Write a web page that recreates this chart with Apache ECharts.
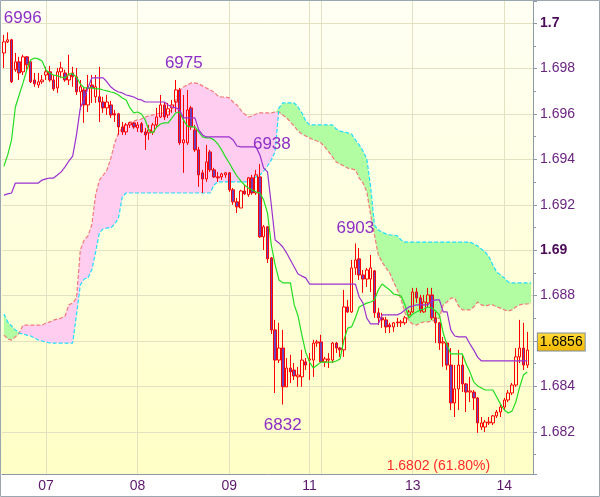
<!DOCTYPE html>
<html><head><meta charset="utf-8">
<script src="https://cdn.jsdelivr.net/npm/echarts@6/dist/echarts.min.js"></script>
<style>html,body{margin:0;padding:0;background:#fff}#c{width:600px;height:497px}</style>
</head><body><div id="c"></div>
<script>
// ---- categories (hourly bars) ----
const daySegments = [['06',13,23],['07',0,23],['08',0,23],['09',0,20],['11',21,23],['12',0,23],['13',0,23],['14',0,7]];
const categories = [];
daySegments.forEach(function(s){ for (let h=s[1]; h<=s[2]; h++) categories.push(s[0]+' '+String(h).padStart(2,'0')+':00'); });
const tickLabels = {'07 00:00':'07','08 00:00':'08','09 00:00':'09','11 21:00':'11','13 00:00':'13','14 00:00':'14'};
const dayLines = ['07 00:00','08 00:00','09 00:00','11 21:00','12 00:00','13 00:00','14 00:00'];

// ---- OHLC ----
const opens = [1.69869,1.69918,1.69927,1.69795,1.69830,1.69786,1.69852,1.69830,1.69750,1.69728,
1.69742,1.69772,1.69786,1.69750,1.69715,1.69786,1.69781,1.69750,1.69781,1.69764,
1.69698,1.69706,1.69640,1.69728,1.69676,1.69676,1.69653,1.69627,1.69640,1.69601,
1.69601,1.69543,1.69521,1.69552,1.69561,1.69539,1.69557,1.69521,1.69517,1.69521,
1.69552,1.69587,1.69640,1.69596,1.69627,1.69653,1.69706,1.69473,1.69473,1.69627,
1.69530,1.69442,1.69341,1.69314,1.69433,1.69354,1.69323,1.69323,1.69332,1.69341,
1.69266,1.69213,1.69186,1.69261,1.69244,1.69319,1.69252,1.69323,1.69059,1.69103,
1.68966,1.68649,1.68516,1.68569,1.68398,1.68481,1.68472,1.68442,1.68442,1.68508,
1.68516,1.68516,1.68591,1.68596,1.68508,1.68516,1.68516,1.68591,1.68569,1.68561,
1.68750,1.68728,1.68922,1.68962,1.68891,1.68873,1.68873,1.68909,1.68724,1.68702,
1.68693,1.68671,1.68662,1.68684,1.68680,1.68680,1.68715,1.68728,1.68816,1.68790,
1.68728,1.68768,1.68803,1.68702,1.68680,1.68591,1.68591,1.68494,1.68327,1.68389,
1.68494,1.68411,1.68375,1.68375,1.68349,1.68221,1.68221,1.68239,1.68239,1.68270,
1.68287,1.68309,1.68340,1.68371,1.68406,1.68530,1.68569,1.68494];
const closes = [1.69918,1.69927,1.69742,1.69830,1.69781,1.69852,1.69817,1.69742,1.69733,1.69742,
1.69750,1.69786,1.69750,1.69711,1.69786,1.69803,1.69750,1.69772,1.69764,1.69698,
1.69720,1.69640,1.69715,1.69715,1.69720,1.69653,1.69627,1.69653,1.69596,1.69596,
1.69543,1.69521,1.69552,1.69561,1.69543,1.69552,1.69521,1.69508,1.69530,1.69552,
1.69587,1.69640,1.69587,1.69623,1.69640,1.69706,1.69473,1.69486,1.69618,1.69543,
1.69442,1.69332,1.69314,1.69389,1.69354,1.69323,1.69319,1.69336,1.69341,1.69266,
1.69213,1.69191,1.69261,1.69248,1.69319,1.69252,1.69332,1.69059,1.69103,1.68962,
1.68649,1.68516,1.68569,1.68398,1.68481,1.68464,1.68446,1.68450,1.68516,1.68494,
1.68521,1.68591,1.68596,1.68508,1.68521,1.68521,1.68591,1.68569,1.68561,1.68750,
1.68728,1.68922,1.68957,1.68891,1.68873,1.68913,1.68922,1.68724,1.68702,1.68693,
1.68662,1.68662,1.68680,1.68680,1.68684,1.68702,1.68728,1.68816,1.68790,1.68732,
1.68772,1.68803,1.68702,1.68680,1.68591,1.68596,1.68494,1.68327,1.68389,1.68494,
1.68411,1.68375,1.68380,1.68349,1.68239,1.68239,1.68243,1.68243,1.68270,1.68287,
1.68309,1.68340,1.68371,1.68406,1.68530,1.68569,1.68494,1.68560];
const lows = [1.69803,1.69913,1.69737,1.69786,1.69750,1.69772,1.69795,1.69737,1.69720,1.69715,
1.69733,1.69750,1.69742,1.69702,1.69693,1.69759,1.69742,1.69728,1.69720,1.69684,
1.69618,1.69561,1.69609,1.69649,1.69649,1.69565,1.69605,1.69596,1.69583,1.69565,
1.69508,1.69508,1.69508,1.69539,1.69535,1.69521,1.69517,1.69442,1.69486,1.69508,
1.69539,1.69583,1.69574,1.69583,1.69605,1.69609,1.69464,1.69341,1.69464,1.69530,
1.69433,1.69279,1.69252,1.69301,1.69345,1.69319,1.69301,1.69310,1.69319,1.69257,
1.69200,1.69164,1.69186,1.69244,1.69235,1.69244,1.69244,1.69054,1.69001,1.68944,
1.68631,1.68371,1.68503,1.68320,1.68398,1.68415,1.68428,1.68398,1.68398,1.68472,
1.68428,1.68442,1.68574,1.68503,1.68486,1.68481,1.68503,1.68547,1.68530,1.68530,
1.68724,1.68724,1.68891,1.68869,1.68812,1.68838,1.68816,1.68702,1.68671,1.68658,
1.68635,1.68635,1.68640,1.68662,1.68662,1.68671,1.68706,1.68724,1.68768,1.68724,
1.68724,1.68750,1.68693,1.68591,1.68561,1.68486,1.68472,1.68296,1.68265,1.68296,
1.68375,1.68287,1.68331,1.68296,1.68195,1.68208,1.68199,1.68230,1.68230,1.68261,
1.68265,1.68296,1.68331,1.68362,1.68398,1.68503,1.68472,1.68481];
const highs = [1.69949,1.69960,1.69931,1.69869,1.69852,1.69861,1.69856,1.69834,1.69781,1.69781,
1.69772,1.69808,1.69812,1.69772,1.69803,1.69830,1.69795,1.69861,1.69808,1.69803,
1.69750,1.69720,1.69772,1.69772,1.69772,1.69808,1.69676,1.69684,1.69658,1.69618,
1.69605,1.69565,1.69561,1.69565,1.69565,1.69565,1.69565,1.69539,1.69552,1.69561,
1.69627,1.69684,1.69653,1.69649,1.69662,1.69750,1.69715,1.69684,1.69706,1.69636,
1.69552,1.69455,1.69354,1.69464,1.69442,1.69363,1.69345,1.69341,1.69345,1.69345,
1.69274,1.69230,1.69266,1.69288,1.69323,1.69332,1.69354,1.69380,1.69111,1.69107,
1.68970,1.68693,1.68680,1.68649,1.68525,1.68539,1.68503,1.68486,1.68561,1.68525,
1.68547,1.68605,1.68605,1.68627,1.68530,1.68547,1.68596,1.68596,1.68574,1.68825,
1.68781,1.68957,1.69030,1.69010,1.68913,1.68922,1.68979,1.68913,1.68746,1.68724,
1.68706,1.68680,1.68684,1.68702,1.68693,1.68710,1.68737,1.68834,1.68834,1.68803,
1.68803,1.68834,1.68834,1.68728,1.68684,1.68618,1.68596,1.68569,1.68494,1.68561,
1.68539,1.68415,1.68442,1.68384,1.68353,1.68265,1.68252,1.68265,1.68274,1.68296,
1.68318,1.68349,1.68384,1.68415,1.68569,1.68693,1.68680,1.68640];

// ---- Ichimoku ----
const tenkan = [1.69370,1.69420,1.69486,1.69631,1.69684,1.69737,1.69794,1.69838,1.69847,1.69843,
1.69834,1.69794,1.69781,1.69772,1.69768,1.69763,1.69759,1.69777,1.69777,1.69763,
1.69733,1.69715,1.69715,1.69715,1.69711,1.69711,1.69706,1.69702,1.69697,1.69693,
1.69684,1.69671,1.69662,1.69627,1.69605,1.69609,1.69600,1.69574,1.69525,1.69517,
1.69543,1.69556,1.69561,1.69561,1.69583,1.69605,1.69609,1.69574,1.69547,1.69543,
1.69543,1.69521,1.69499,1.69495,1.69495,1.69486,1.69468,1.69442,1.69411,1.69384,
1.69354,1.69327,1.69305,1.69287,1.69274,1.69265,1.69257,1.69252,1.69221,1.69164,
1.69023,1.68935,1.68869,1.68856,1.68856,1.68856,1.68759,1.68710,1.68626,1.68551,
1.68507,1.68481,1.68494,1.68507,1.68507,1.68507,1.68507,1.68512,1.68521,1.68604,
1.68657,1.68662,1.68701,1.68750,1.68759,1.68767,1.68772,1.68781,1.68825,1.68851,
1.68838,1.68825,1.68807,1.68803,1.68798,1.68759,1.68701,1.68719,1.68728,1.68737,
1.68741,1.68750,1.68745,1.68732,1.68715,1.68635,1.68582,1.68543,1.68543,1.68543,
1.68543,1.68499,1.68463,1.68419,1.68402,1.68393,1.68384,1.68384,1.68384,1.68353,
1.68322,1.68296,1.68283,1.68291,1.68331,1.68397,1.68450,1.68463];
const kijun = [1.69243,1.69248,1.69252,1.69296,1.69296,1.69296,1.69296,1.69296,1.69296,1.69296,
1.69309,1.69314,1.69318,1.69318,1.69331,1.69345,1.69367,1.69393,1.69415,1.69508,
1.69627,1.69666,1.69715,1.69759,1.69759,1.69759,1.69759,1.69741,1.69719,1.69706,
1.69697,1.69693,1.69684,1.69680,1.69675,1.69666,1.69662,1.69653,1.69653,1.69653,
1.69653,1.69653,1.69653,1.69640,1.69631,1.69627,1.69618,1.69583,1.69583,1.69583,
1.69583,1.69530,1.69508,1.69499,1.69499,1.69499,1.69499,1.69499,1.69499,1.69499,
1.69486,1.69459,1.69455,1.69455,1.69455,1.69455,1.69455,1.69420,1.69362,1.69345,
1.69199,1.69045,1.69032,1.69014,1.68988,1.68957,1.68926,1.68895,1.68886,1.68878,
1.68851,1.68851,1.68851,1.68851,1.68851,1.68851,1.68851,1.68851,1.68851,1.68851,
1.68851,1.68851,1.68851,1.68794,1.68767,1.68701,1.68675,1.68675,1.68675,1.68715,
1.68715,1.68715,1.68715,1.68715,1.68723,1.68737,1.68750,1.68754,1.68759,1.68759,
1.68759,1.68759,1.68776,1.68781,1.68781,1.68728,1.68728,1.68648,1.68622,1.68618,
1.68618,1.68618,1.68587,1.68560,1.68529,1.68512,1.68512,1.68512,1.68512,1.68512,
1.68512,1.68512,1.68512,1.68512,1.68512,1.68512,1.68512,1.68512];
const spanA = [1.68626,1.68609,1.68604,1.68618,1.68635,1.68670,1.68670,1.68670,1.68670,1.68670,
1.68670,1.68679,1.68684,1.68692,1.68697,1.68701,1.68710,1.68759,1.68767,1.68789,
1.69001,1.69045,1.69063,1.69111,1.69243,1.69309,1.69331,1.69354,1.69406,1.69473,
1.69517,1.69539,1.69556,1.69565,1.69569,1.69574,1.69578,1.69587,1.69592,1.69596,
1.69600,1.69605,1.69605,1.69609,1.69618,1.69662,1.69706,1.69719,1.69728,1.69737,
1.69737,1.69733,1.69724,1.69715,1.69706,1.69697,1.69680,1.69675,1.69675,1.69671,
1.69653,1.69640,1.69618,1.69600,1.69587,1.69592,1.69600,1.69605,1.69605,1.69605,
1.69605,1.69609,1.69609,1.69596,1.69583,1.69565,1.69547,1.69525,1.69512,1.69503,
1.69495,1.69486,1.69481,1.69473,1.69455,1.69433,1.69411,1.69389,1.69380,1.69371,
1.69362,1.69358,1.69354,1.69318,1.69296,1.69257,1.69155,1.69067,1.68979,1.68948,
1.68922,1.68900,1.68860,1.68825,1.68781,1.68724,1.68688,1.68675,1.68670,1.68679,
1.68684,1.68684,1.68688,1.68692,1.68701,1.68759,1.68772,1.68789,1.68789,1.68754,
1.68737,1.68737,1.68737,1.68750,1.68772,1.68759,1.68754,1.68759,1.68759,1.68750,
1.68745,1.68737,1.68732,1.68737,1.68750,1.68759,1.68763,1.68763,1.68767];
const spanB = [1.68719,1.68684,1.68666,1.68649,1.68635,1.68631,1.68626,1.68622,1.68613,1.68604,
1.68600,1.68596,1.68591,1.68591,1.68591,1.68591,1.68591,1.68591,1.68591,1.68715,
1.68847,1.68873,1.68878,1.68913,1.68992,1.69076,1.69094,1.69098,1.69098,1.69116,
1.69142,1.69235,1.69252,1.69252,1.69252,1.69252,1.69252,1.69252,1.69252,1.69252,
1.69252,1.69252,1.69252,1.69252,1.69252,1.69252,1.69252,1.69252,1.69252,1.69252,
1.69252,1.69252,1.69252,1.69252,1.69252,1.69287,1.69301,1.69301,1.69301,1.69301,
1.69301,1.69301,1.69301,1.69301,1.69301,1.69309,1.69323,1.69331,1.69349,1.69371,
1.69398,1.69433,1.69627,1.69649,1.69649,1.69649,1.69649,1.69631,1.69605,1.69570,
1.69552,1.69552,1.69552,1.69552,1.69552,1.69552,1.69552,1.69534,1.69525,1.69521,
1.69517,1.69512,1.69486,1.69464,1.69437,1.69402,1.69279,1.69111,1.69089,1.69080,
1.69072,1.69067,1.69067,1.69063,1.69045,1.69036,1.69036,1.69036,1.69036,1.69036,
1.69036,1.69036,1.69036,1.69036,1.69036,1.69036,1.69036,1.69036,1.69036,1.69036,
1.69036,1.69036,1.69036,1.69027,1.69019,1.69005,1.68992,1.68970,1.68935,1.68904,
1.68891,1.68878,1.68860,1.68856,1.68856,1.68856,1.68856,1.68856,1.68856];

// ---- annotations ----
const extremeLabels = [
  {at:'06 14:00', price:1.6996, text:'6996'},
  {at:'08 10:00', price:1.6975, text:'6975'},
  {at:'09 08:00', price:1.6938, text:'6938'},
  {at:'12 09:00', price:1.6903, text:'6903'},
  {at:'09 14:00', price:1.6832, text:'6832'}
];
const extremeOffsets = [[15,-14],[8,-17],[12,-20],[0,-15],[0,21]];
const fibLevel = {at:'13 07:00', price:1.6802, text:'1.6802 (61.80%)'};

// ---- derived tables for the library ----
const candleData = opens.map(function(o,i){ return [o, closes[i], lows[i], highs[i]]; });
const kumoLow = spanA.map(function(a,i){ return Math.min(a, spanB[i]); });
const kumoPink = spanA.map(function(a,i){ return a > spanB[i] ? a - spanB[i] : 0; });
const kumoGreen = spanA.map(function(a,i){ return spanB[i] > a ? spanB[i] - a : 0; });
const lastClose = closes[closes.length-1];
const lastCat = categories[closes.length-1];

const FONT = "'Liberation Sans', Arial, sans-serif";
const chart = echarts.init(document.getElementById('c'), null, {renderer:'canvas', width:600, height:497});

const option = {
  animation:false,
  backgroundColor:'#ffffff',
  textStyle:{fontFamily:FONT},
  grid:{left:2, right:67, top:1, bottom:23},
  graphic:{elements:[
    {type:'rect', z:-10, silent:true, shape:{x:1,y:1,width:532,height:473},
     style:{fill:new echarts.graphic.LinearGradient(0,0,0,1,[{offset:0,color:'#fffff4'},{offset:1,color:'#ffffc6'}])}},
    {type:'rect', z:100, silent:true, shape:{x:0.5,y:0.5,width:599,height:496},
     style:{fill:'none', stroke:'#9aa6b0', lineWidth:1}}
  ]},
  xAxis:{
    type:'category', data:categories, boundaryGap:true,
    axisLine:{lineStyle:{color:'#8d9aa5'}},
    axisTick:{show:false},
    splitLine:{show:false},
    axisLabel:{
      interval:function(i,v){ return Object.prototype.hasOwnProperty.call(tickLabels, v); },
      formatter:function(v){ return tickLabels[v] || ''; },
      color:'#5b1769', fontSize:14, margin:5, fontFamily:FONT, hideOverlap:false
    }
  },
  yAxis:{
    type:'value', position:'right', min:1.68014, max:1.70098, splitNumber:10,
    axisLine:{show:true, lineStyle:{color:'#8d9aa5'}},
    axisTick:{show:true, length:4, lineStyle:{color:'#8d9aa5'}},
    minorTick:{show:true, splitNumber:2, length:3, lineStyle:{color:'#8d9aa5'}},
    splitLine:{show:true, showMinLine:false, showMaxLine:false, lineStyle:{color:'#e4e0c2', width:1}},
    axisLabel:{
      showMinLabel:false, showMaxLabel:false, margin:7, color:'#6a2480', fontSize:14, fontFamily:FONT,
      formatter:function(v){
        const r = Math.round(v*1000)/1000;
        if (Math.abs(v-r) > 1e-7) return '';
        if (Math.abs(r-1.7) < 1e-9) return '{b|1.7}';
        if (Math.abs(r-1.69) < 1e-9) return '{b|1.69}';
        return r.toFixed(3);
      },
      rich:{b:{fontWeight:'bold', color:'#4a0b56', fontSize:14, fontFamily:FONT}}
    }
  },
  series:[
    {name:'kumoBase', type:'line', data:kumoLow, stack:'kumo', symbol:'none', silent:true, z:2,
     lineStyle:{opacity:0}, emphasis:{disabled:true},
     markLine:{silent:true, z:1, symbol:['none','none'], label:{show:false},
       lineStyle:{color:'#e4e0c2', width:1, type:'solid'},
       data:dayLines.map(function(d){ return {xAxis:d}; })}},
    {name:'kumoPink', type:'line', data:kumoPink, stack:'kumo', symbol:'none', silent:true, z:2,
     lineStyle:{opacity:0}, areaStyle:{color:'#ffcdef', opacity:1}, emphasis:{disabled:true}},
    {name:'kumoGreen', type:'line', data:kumoGreen, stack:'kumo', symbol:'none', silent:true, z:2,
     lineStyle:{opacity:0}, areaStyle:{color:'#b2fca2', opacity:1}, emphasis:{disabled:true}},
    {name:'Senkou A', type:'line', data:spanA, symbol:'none', silent:true, z:3,
     lineStyle:{color:'#f27a7a', width:1.2, type:[4,2]}},
    {name:'Senkou B', type:'line', data:spanB, symbol:'none', silent:true, z:3,
     lineStyle:{color:'#22dcff', width:1.2, type:[4,2]}},
    {name:'EURUSD', type:'candlestick', data:candleData, barWidth:3, z:4,
     itemStyle:{color:'rgba(255,255,255,0)', color0:'#6e3fb8', borderColor:'#ff0000', borderColor0:'#ff0000', borderWidth:1},
     markPoint:{silent:true, z:10, symbol:'circle', symbolSize:1, itemStyle:{color:'rgba(0,0,0,0)'},
       data:extremeLabels.map(function(p,k){ return {name:p.text, coord:[p.at,p.price],
         label:{show:true, position:'inside', formatter:'{b}', offset:extremeOffsets[k], color:'#8e2ec6', fontSize:17, fontFamily:FONT}}; })
       .concat([
         {name:fibLevel.text, coord:[fibLevel.at, fibLevel.price],
          label:{show:true, position:'inside', formatter:'{b}', offset:[-1,-6], color:'#ff2a2a', fontSize:14, fontFamily:FONT}},
         {name:lastClose.toFixed(4), coord:[lastCat, lastClose],
          label:{show:true, position:'inside', formatter:'{b}', offset:[34,-8], color:'#000000', fontSize:14, fontFamily:FONT,
            padding:[2,2,1,2], borderColor:'#7d8b97', borderWidth:1,
            backgroundColor:new echarts.graphic.LinearGradient(0,0,0,1,[{offset:0,color:'#ffdc3c'},{offset:1,color:'#f2b800'}])}}
       ])}},
    {name:'Tenkan', type:'line', data:tenkan, symbol:'none', silent:true, z:5,
     lineStyle:{color:'#22dd22', width:1.2}},
    {name:'Kijun', type:'line', data:kijun, symbol:'none', silent:true, z:5,
     lineStyle:{color:'#9b30d0', width:1.2}}
  ]
};
chart.setOption(option);
</script>
</body></html>
